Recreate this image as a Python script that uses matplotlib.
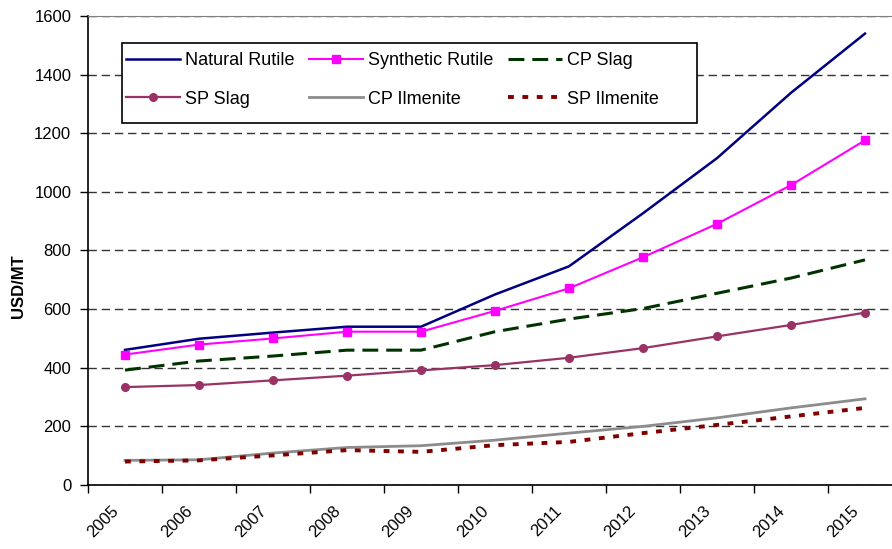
import numpy as np
import matplotlib
matplotlib.use("Agg")
import matplotlib.pyplot as plt
from matplotlib.patches import Rectangle
from matplotlib.transforms import ScaledTranslation

plt.rcParams['font.family'] = ['Liberation Sans', 'DejaVu Sans']

# data (USD/MT)
years = ['2005', '2006', '2007', '2008', '2009', '2010', '2011', '2012', '2013', '2014', '2015']
natural_rutile = [461, 499, 520, 540, 540, 650, 746, 927, 1115, 1338, 1540]
synthetic_rutile = [445, 479, 500, 523, 523, 594, 671, 777, 891, 1023, 1176]
cp_slag = [392, 423, 440, 460, 460, 523, 566, 602, 654, 706, 768]
sp_slag = [334, 341, 357, 373, 391, 409, 434, 467, 507, 546, 588]
cp_ilmenite = [84, 86, 109, 128, 134, 153, 177, 200, 229, 263, 294]
sp_ilmenite = [80, 84, 101, 119, 113, 136, 147, 177, 205, 234, 263]

W, H = 892, 549
fig = plt.figure(figsize=(W / 100, H / 100), dpi=100)
# plot area: left 88px, right runs past the image edge (category axis, 11 slots)
ax = fig.add_axes([88 / W, (H - 485) / H, (902 - 88) / W, (485 - 16) / H])

x = np.arange(len(years)) + 0.5

l_nat, = ax.plot(x, natural_rutile, color='#000080', lw=1.8, label='Natural Rutile')
l_syn, = ax.plot(x, synthetic_rutile, color='#FF00FF', lw=1.5, marker='s', ms=5.5,
                 label='Synthetic Rutile')
l_cps, = ax.plot(x, cp_slag, color='#003300', lw=2.2, linestyle=(0, (5.2, 2.6)),
                 label='CP Slag')
l_sps, = ax.plot(x, sp_slag, color='#993366', lw=1.6, marker='o', ms=5.5, label='SP Slag')
l_cpi, = ax.plot(x, cp_ilmenite, color='#8c8c8c', lw=2.0, label='CP Ilmenite')
l_spi, = ax.plot(x, sp_ilmenite, color='#800000', lw=2.8, linestyle=(0, (1.5, 2.2)),
                 dash_capstyle='butt', label='SP Ilmenite')

ax.set_xlim(0, len(years))
ax.set_ylim(0, 1600)

# y axis
ax.set_yticks(range(0, 1601, 200))
ax.tick_params(axis='y', direction='out', length=6, width=1, labelsize=12, pad=6)
ax.yaxis.grid(True, linestyle=(0, (6, 3.5)), color='#333333', lw=1)
ax.set_axisbelow('line')

# x axis: tick marks on category boundaries, labels in the middle
ax.set_xticks(np.arange(0, len(years) + 1))
ax.set_xticklabels([])
ax.set_xticks(x, minor=True)
ax.set_xticklabels(years, minor=True, rotation=45, ha='right', fontsize=12)
ax.tick_params(axis='x', which='major', direction='out', length=6, width=1)
ax.tick_params(axis='x', which='minor', length=0, pad=13)
for lab in ax.get_xticklabels(minor=True):
    lab.set_transform(lab.get_transform() + ScaledTranslation(-4 / 100, 0, fig.dpi_scale_trans))

ax.spines['top'].set_color('#808080')
ax.spines['right'].set_visible(False)
ax.spines['left'].set_linewidth(1.2)
ax.spines['bottom'].set_linewidth(1.2)

fig.text(18 / W, 1 - 286 / H, 'USD/MT', rotation=90, ha='center', va='center',
         fontsize=12, fontweight='bold')

# legend box
box = Rectangle((122 / W, 1 - 123 / H), (697 - 122) / W, 80 / H, transform=fig.transFigure,
                facecolor='white', edgecolor='black', lw=1.2, zorder=3)
fig.add_artist(box)
handles = [l_nat, l_sps, l_syn, l_cpi, l_cps, l_spi]
leg = fig.legend(handles, [h.get_label() for h in handles], ncol=3, loc='upper left',
                 bbox_to_anchor=(126 / W, 1 - 52 / H), frameon=False, fontsize=13,
                 handlelength=3.0, handletextpad=0.25, columnspacing=0.83,
                 labelspacing=1.2, borderpad=0, borderaxespad=0)
leg.set_zorder(5)

fig.savefig('out.png', dpi=100)
